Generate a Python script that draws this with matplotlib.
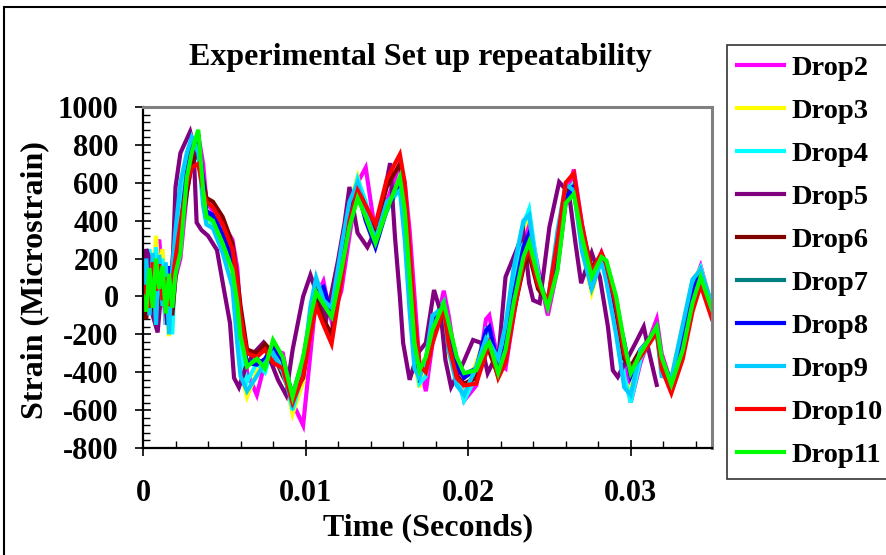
import numpy as np
import matplotlib
matplotlib.use('Agg')
import matplotlib.pyplot as plt
from matplotlib.ticker import MultipleLocator
from matplotlib.patches import Rectangle

plt.rcParams['font.family'] = ['Liberation Serif', 'DejaVu Serif']
plt.rcParams['font.weight'] = 'bold'
plt.rcParams['axes.unicode_minus'] = False

# time base (milliseconds)
time_ms = [0, 0.2, 0.4, 0.6, 0.8, 1.0, 1.2, 1.4, 1.6, 1.8,
           2.0, 2.3, 2.7, 3.0, 3.4, 3.7, 3.9, 4.3, 4.9, 5.5,
           5.8, 6.0, 6.4, 7.0, 7.5, 8.0, 8.6, 9.2, 9.85, 10.3,
           10.65, 11.1, 11.6, 12.2, 12.7, 13.2, 13.7, 14.3, 15.0, 15.8,
           16.1, 16.4, 16.7, 17.0, 17.4, 17.8, 18.5, 18.8, 19.3, 19.75,
           20.5, 21.1, 21.3, 21.85, 22.3, 22.8, 23.4, 23.75, 24.3, 24.9,
           25.5, 26.0, 26.5, 27.0, 27.6, 28.2, 28.5, 29.1, 29.6, 30.0,
           30.6, 31.6, 31.9, 32.5, 33.2, 33.8, 34.3, 35.0]

# Drop5 runs a little ahead and stops early, so it has its own time base
time_ms_drop5 = [0, 0.2, 0.4, 0.6, 0.9, 1.2, 1.5, 1.85, 2.0, 2.3,
                 2.9, 3.1, 3.3, 3.6, 4.0, 4.55, 4.95, 5.35, 5.6, 5.9,
                 6.3, 6.8, 7.4, 7.8, 8.3, 8.8, 9.2, 9.85, 10.3, 10.9,
                 11.3, 12.0, 12.4, 12.7, 13.2, 13.8, 14.2, 14.8, 15.2, 15.5,
                 15.8, 16.0, 16.4, 16.9, 17.4, 17.9, 18.3, 18.6, 18.95, 19.7,
                 20.3, 20.8, 21.2, 21.9, 22.3, 22.8, 23.4, 23.75, 24.0, 24.4,
                 25.0, 25.6, 26.2, 26.6, 26.95, 27.6, 28.1, 28.6, 28.9, 29.2,
                 30.3, 30.8, 31.1, 31.6]

drop2 = [50, -100, 100, 0, 250, 300, 80, -150, 50, -80,
         100, 200, 550, 700, 850, 700, 500, 450, 380, 300,
         150, -100, -400, -520, -350, -280, -300, -560, -680, -300,
         0, 80, -130, 30, 320, 600, 680, 330, 500, 700,
         600, 350, 0, -350, -500, -250, 30, -100, -380, -550,
         -470, -120, -100, -350, -380, -100, 250, 400, 150, -100,
         150, 500, 670, 380, 100, 230, 150, -50, -300, -560,
         -350, -120, -300, -460, -250, 50, 160, -60]

drop3 = [80, -50, 200, 50, 320, 120, 250, -30, -210, 100,
         300, 500, 700, 780, 820, 550, 400, 380, 280, 100,
         -200, -400, -530, -400, -330, -300, -380, -620, -450, -150,
         60, 0, -60, 250, 480, 630, 450, 270, 480, 600,
         350, 0, -350, -480, -350, -100, -80, -300, -450, -520,
         -350, -200, -250, -380, -200, 100, 350, 440, 100, -40,
         300, 560, 560, 250, 20, 200, 100, -150, -450, -490,
         -300, -180, -400, -430, -150, 80, 150, -50]

drop4 = [-100, 150, 250, -80, 260, 0, 200, -150, 50, -200,
         200, 450, 680, 820, 800, 600, 430, 380, 320, 180,
         -100, -300, -450, -350, -400, -260, -350, -600, -400, -80,
         80, 20, -80, 200, 450, 620, 500, 300, 450, 580,
         380, 50, -300, -460, -420, -120, -30, -220, -420, -550,
         -420, -180, -200, -360, -250, 50, 380, 460, 120, -50,
         250, 540, 600, 280, 60, 210, 120, -120, -420, -560,
         -330, -170, -360, -450, -200, 60, 150, -60]

drop5 = [0, 250, 200, -100, -190, 100, -150, 230, 578, 757,
         870, 800, 390, 350, 320, 245, 50, -140, -430, -480,
         -380, -300, -245, -330, -440, -520, -283, 0, 113, -35,
         -108, 192, 388, 578, 335, 260, 330, 525, 704, 314,
         0, -245, -440, -300, -245, 34, -80, -335, -478, -350,
         -230, -245, -405, -283, 103, 208, 335, 70, -20, -35,
         367, 604, 546, 282, 70, 230, 103, -160, -390, -425,
         -245, -160, -283, -467]

drop6 = [30, -120, 80, -80, 150, -50, 100, 0, 150, -100,
         100, 300, 550, 700, 760, 620, 520, 500, 420, 280,
         100, -50, -280, -300, -250, -300, -420, -520, -430, -180,
         -20, -120, -200, 100, 420, 580, 470, 360, 580, 700,
         560, 200, -150, -380, -380, -200, -80, -280, -420, -460,
         -430, -280, -290, -420, -330, -80, 150, 220, 40, -30,
         280, 560, 580, 350, 150, 220, 180, -80, -330, -370,
         -280, -180, -380, -480, -300, -40, 80, -100]

drop7 = [20, -60, 120, -40, 180, 60, 130, -70, 90, -30,
         150, 280, 620, 770, 860, 580, 430, 410, 300, 160,
         -20, -190, -360, -330, -360, -250, -330, -520, -330, -100,
         30, -30, -100, 150, 380, 530, 430, 300, 470, 620,
         440, 90, -250, -390, -330, -170, -40, -150, -330, -410,
         -380, -260, -240, -400, -280, -30, 220, 300, 100, -50,
         160, 500, 550, 320, 110, 210, 180, -10, -260, -400,
         -300, -160, -330, -460, -270, -20, 110, -70]

drop8 = [-30, 100, -20, 150, -60, 120, 20, -60, 160, 20,
         200, 350, 650, 780, 840, 600, 450, 430, 330, 200,
         0, -180, -350, -360, -330, -260, -340, -540, -360, -120,
         20, 50, -90, 180, 420, 560, 400, 260, 460, 600,
         400, 60, -280, -420, -340, -150, -40, -180, -360, -430,
         -380, -180, -160, -370, -260, 0, 260, 330, 90, -40,
         200, 520, 580, 300, 40, 220, 160, -60, -240, -420,
         -300, -170, -340, -450, -230, 20, 130, -60]

drop9 = [-50, 200, -100, 230, -150, 220, -50, 180, -200, 150,
         350, 600, 760, 840, 760, 480, 380, 360, 230, 50,
         -250, -420, -500, -420, -350, -300, -400, -570, -380, -50,
         100, -20, -60, 260, 500, 600, 440, 300, 500, 560,
         300, -80, -380, -430, -330, -100, -60, -280, -470, -520,
         -370, -220, -240, -330, -150, 150, 400, 430, 80, -30,
         350, 590, 560, 240, 40, 190, 80, -200, -480, -520,
         -280, -190, -420, -430, -150, 90, 140, -40]

drop10 = [-20, 60, -60, 180, 30, 170, -20, 100, -50, 80,
          200, 380, 600, 680, 700, 560, 500, 470, 380, 250,
          80, -100, -300, -320, -280, -350, -380, -560, -420, -200,
          -50, -150, -250, 80, 400, 560, 480, 380, 620, 750,
          600, 250, -100, -360, -400, -250, -60, -250, -430, -470,
          -460, -300, -250, -430, -350, -100, 180, 250, 60, -20,
          300, 600, 650, 380, 130, 230, 170, -50, -300, -380,
          -320, -190, -380, -510, -330, -80, 60, -120]

drop11 = [0, -80, 150, -60, 200, 40, 160, -90, 120, -60,
          120, 230, 630, 760, 880, 560, 420, 400, 280, 140,
          -35, -210, -370, -330, -380, -230, -320, -530, -320, -108,
          23, -40, -108, 140, 367, 520, 420, 282, 456, 630,
          456, 103, -245, -390, -320, -177, -35, -140, -320, -405,
          -390, -267, -245, -405, -283, -35, 208, 287, 103, -60,
          140, 493, 540, 314, 103, 208, 190, 0, -245, -405,
          -300, -160, -320, -465, -283, -35, 103, -70]

labels = ['Drop2', 'Drop3', 'Drop4', 'Drop5', 'Drop6',
          'Drop7', 'Drop8', 'Drop9', 'Drop10', 'Drop11']
colors = ['#FF00FF', '#FFFF00', '#00FFFF', '#800080', '#800000',
          '#008080', '#0000FF', '#00CCFF', '#FF0000', '#00FF00']
series = [drop2, drop3, drop4, drop5, drop6, drop7, drop8, drop9, drop10, drop11]

fig = plt.figure(figsize=(8.87, 5.55), dpi=100)
ax = fig.add_axes([143/887, 1-448/555, 569/887, 341/555])

t = np.array(time_ms) / 1000.0
t5 = np.array(time_ms_drop5) / 1000.0
for name, vals, col in zip(labels, series, colors):
    tt = t5 if name == 'Drop5' else t
    ax.plot(tt, vals, color=col, lw=3, label=name, solid_joinstyle='miter')

ax.set_xlim(0, 0.035)
ax.set_ylim(-800, 1000)
ax.set_xticks([0, 0.01, 0.02, 0.03], ['0', '0.01', '0.02', '0.03'])
ax.xaxis.set_minor_locator(MultipleLocator(0.002))
ax.yaxis.set_major_locator(MultipleLocator(200))
ax.yaxis.set_minor_locator(MultipleLocator(40))
ax.tick_params(which='major', direction='inout', length=11, width=1.2, labelsize=22)
ax.tick_params(axis='y', which='major', pad=12)
ax.tick_params(axis='x', which='major', pad=17)
ax.tick_params(which='minor', direction='in', length=5, width=1.0)

for s in ['top', 'right']:
    ax.spines[s].set_color('#808080')
    ax.spines[s].set_linewidth(2.2)
for s in ['left', 'bottom']:
    ax.spines[s].set_color('black')
    ax.spines[s].set_linewidth(1.6)

fig.text(420/887, 1-58/555, 'Experimental Set up repeatability',
         ha='center', va='center', fontsize=23, fontweight='bold')
fig.text(428/887, 1-528/555, 'Time (Seconds)',
         ha='center', va='center', fontsize=23, fontweight='bold')
fig.text(35/887, 1-280/555, 'Strain (Microstrain)', rotation=90,
         ha='center', va='center', fontsize=23, fontweight='bold')

leg = fig.legend(loc='upper left', bbox_to_anchor=(727/887, 1-45/555),
                 fontsize=20.5, frameon=True, fancybox=False, shadow=False,
                 handlelength=1.65, handletextpad=0.25, labelspacing=0.6,
                 borderpad=0.36, borderaxespad=0)
leg.get_frame().set_edgecolor('black')
leg.get_frame().set_linewidth(1.2)
for line in leg.get_lines():
    line.set_linewidth(3)

# outer chart border (runs off the right and bottom edges)
fig.add_artist(Rectangle((4/887, -0.2), 2.0, 1.2 - 7/555, transform=fig.transFigure,
                         fill=False, edgecolor='black', lw=1.5, clip_on=False))

fig.savefig('out.png', dpi=100)
